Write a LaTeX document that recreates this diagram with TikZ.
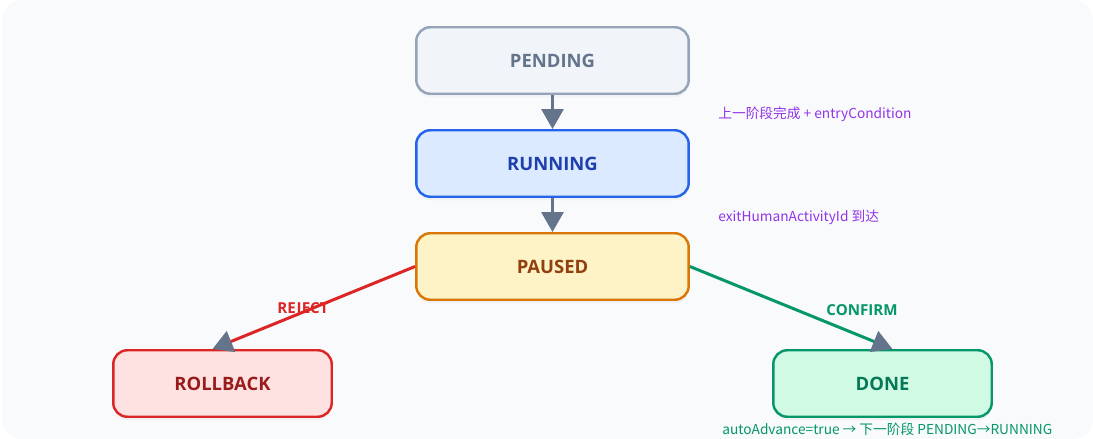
\documentclass[tikz,border=0pt]{standalone}
\usepackage{fontspec}
\setmainfont{Open Sans}
\newfontfamily\cjk{Noto Sans CJK SC}
\usepackage{tikz}
\usetikzlibrary{arrows.meta}
\usetikzlibrary{shadows}
\tikzset{>=latex}
\definecolor{bgpage}{HTML}{F8FAFC}
\definecolor{slate}{HTML}{64748B}
\definecolor{pendfill}{HTML}{F1F5F9}
\definecolor{penddraw}{HTML}{94A3B8}
\definecolor{runfill}{HTML}{DBEAFE}
\definecolor{rundraw}{HTML}{2563EB}
\definecolor{runtext}{HTML}{1E40AF}
\definecolor{pausefill}{HTML}{FEF3C7}
\definecolor{pausedraw}{HTML}{D97706}
\definecolor{pausetext}{HTML}{92400E}
\definecolor{rbfill}{HTML}{FEE2E2}
\definecolor{rbdraw}{HTML}{DC2626}
\definecolor{rbtext}{HTML}{991B1B}
\definecolor{donefill}{HTML}{D1FAE5}
\definecolor{donedraw}{HTML}{059669}
\definecolor{donetext}{HTML}{047857}
\definecolor{notepurple}{HTML}{9333EA}
\tikzset{
  statebox/.style={draw, rounded corners=0.28cm, line width=1.4pt,
    minimum width=5.45cm, minimum height=1.33cm,
    font=\fontsize{10.5}{12}\selectfont\bfseries,
    drop shadow={opacity=0.06, shadow xshift=0pt, shadow yshift=-2pt}},
  smallbox/.style={statebox, minimum width=4.37cm},
  flow/.style={line width=1.7pt, -{Triangle[color=slate, length=0.4cm, width=0.44cm]}},
  edgelabel/.style={font=\fontsize{8.6}{10}\selectfont\bfseries},
  note/.style={anchor=west, inner sep=0pt, font=\cjk\fontsize{7.8}{9}\selectfont}
}
\begin{document}
\begin{tikzpicture}[x=0.02cm, y=-0.02cm]
	\fill[white] (0,0) rectangle (1093,439);
	\fill[bgpage, rounded corners=0.4cm] (2,0) rectangle (1093,439);
	\useasboundingbox (0,0) rectangle (1093,439);

	% states
	\node[statebox, fill=pendfill, draw=penddraw, text=slate] (pending) at (552.5,60.5) {PENDING};
	\node[statebox, fill=runfill, draw=rundraw, text=runtext] (running) at (552.5,163.5) {RUNNING};
	\node[statebox, fill=pausefill, draw=pausedraw, text=pausetext] (paused) at (552.5,266.5) {PAUSED};
	\node[smallbox, fill=rbfill, draw=rbdraw, text=rbtext] (rollback) at (222.5,383.5) {ROLLBACK};
	\node[smallbox, fill=donefill, draw=donedraw, text=donetext] (done) at (882.5,383.5) {DONE};

	% transitions
	\draw[flow, slate] (pending.south) -- (running.north);
	\draw[flow, slate] (running.south) -- (paused.north);
	\draw[flow, rbdraw] (paused.west) -- ([xshift=-0.2cm]rollback.north);
	\draw[flow, donedraw] (paused.east) -- ([xshift=0.2cm]done.north);

	\node[edgelabel, text=rbdraw] (reject) at (303,310) {REJECT};
	\node[edgelabel, text=donedraw] (confirm) at (862,310) {CONFIRM};

	% notes
	\node[note, text=notepurple] (entrynote) at (718,114) {上一阶段完成 + entryCondition};
	\node[note, text=notepurple] (exitnote) at (718,217) {exitHumanActivityId 到达};
	\node[note, text=donedraw] (advnote) at (722,429) {autoAdvance=true → 下一阶段 PENDING→RUNNING};
\end{tikzpicture}
\end{document}
